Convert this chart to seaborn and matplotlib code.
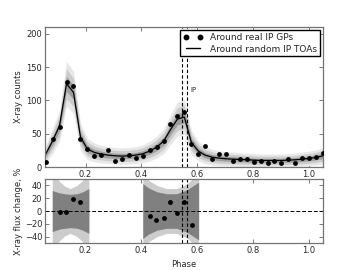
import numpy as np
import pandas as pd
import matplotlib
matplotlib.use("Agg")
import matplotlib.pyplot as plt
import seaborn as sns
from matplotlib.lines import Line2D

# phase bins
phase = [0.058, 0.083, 0.107, 0.132, 0.157, 0.182, 0.207, 0.232, 0.256, 0.281,
         0.306, 0.331, 0.356, 0.380, 0.405, 0.430, 0.455, 0.480, 0.504, 0.529,
         0.554, 0.579, 0.604, 0.628, 0.653, 0.678, 0.703, 0.728, 0.752, 0.777,
         0.802, 0.827, 0.852, 0.876, 0.901, 0.926, 0.951, 0.976, 1.000, 1.025, 1.050]

# counts around real IP GPs
real_counts = [7.6, 42, 59.5, 127, 121.6, 42, 26.8, 17, 18, 25.7,
               9.5, 12.6, 18, 14, 17, 25.8, 30.8, 39, 65, 77,
               83, 35, 20, 31, 11.6, 19, 19, 8.5, 12, 11.6,
               7, 9, 5.5, 9, 6.5, 12, 6.5, 14, 13, 15.5, 20.7]

# mean counts around random IP TOAs and its scatter
rand_mean = [20, 40, 62, 125, 112, 45, 27, 22, 19.5, 18,
             17, 16.5, 17, 18, 20, 24, 30, 39, 56, 72,
             75, 37, 24, 18, 15, 13.5, 12.5, 12, 11.5, 11,
             10.5, 10, 10, 10, 10, 10.5, 11, 12, 13, 14.5, 17]
rand_sigma = [4.5, 6.3, 7.9, 11.2, 10.6, 6.7, 5.2, 4.7, 4.4, 4.2,
              4.1, 4.1, 4.1, 4.2, 4.5, 4.9, 5.5, 6.2, 7.5, 8.5,
              8.7, 6.1, 4.9, 4.2, 3.9, 3.7, 3.5, 3.5, 3.4, 3.3,
              3.2, 3.2, 3.2, 3.2, 3.2, 3.2, 3.3, 3.5, 3.6, 3.8, 4.1]

# flux change (%) in the peak windows
chg_phase = [0.107, 0.131, 0.155, 0.180, 0.430, 0.454, 0.480, 0.503, 0.528, 0.553, 0.581]
chg_value = [-1, -1, 19.5, 13.4, -7.7, -13.8, -11.3, 14.3, -3.5, 14.3, -22.6]

# confidence bands of the flux change, window 1 and window 2
win1_phase = [0.081, 0.095, 0.11, 0.125, 0.145, 0.17, 0.19, 0.212]
win1_1sig = [32, 30, 28, 27, 26, 27, 30, 35]
win1_2sig = [58, 52, 45, 39, 35, 40, 48, 58]
win2_phase = [0.405, 0.426, 0.456, 0.49, 0.526, 0.563, 0.587, 0.605]
win2_1sig = [43, 36, 30, 27, 27, 33, 40, 45]
win2_2sig = [58, 48, 40, 35, 35, 42, 52, 58]

ip_lines = [0.545, 0.565]

sns.set_style("ticks")
plt.rcParams['font.family'] = ['DejaVu Sans']
plt.rcParams['font.size'] = 6

df = pd.DataFrame({"phase": phase, "real": real_counts, "mean": rand_mean, "sig": rand_sigma})
df_chg = pd.DataFrame({"phase": chg_phase, "chg": chg_value})

fig = plt.figure(figsize=(3.6, 2.7), dpi=100)
ax1 = fig.add_axes([0.125, 0.381, 0.772, 0.519])
ax2 = fig.add_axes([0.125, 0.100, 0.772, 0.237])

# top panel
p = np.array(phase)
m = np.array(rand_mean)
s = np.array(rand_sigma)
ax1.fill_between(p, m - 3 * s, m + 3 * s, color='0.91', lw=0)
ax1.fill_between(p, m - 2 * s, m + 2 * s, color='0.8', lw=0)
ax1.fill_between(p, m - s, m + s, color='0.62', lw=0)
sns.lineplot(data=df, x="phase", y="mean", ax=ax1, color='black', lw=0.9)
sns.scatterplot(data=df, x="phase", y="real", ax=ax1, color='black', s=12,
                edgecolor='black', linewidth=0, zorder=5)
for xv in ip_lines:
    ax1.axvline(xv, color='black', ls='--', lw=0.8, dashes=(3, 2))
ax1.text(0.575, 112, "IP", fontsize=5)
ax1.set_xlim(0.055, 1.05)
ax1.set_ylim(0, 210)
ax1.set_yticks([0, 50, 100, 150, 200])
ax1.set_xticks([0.2, 0.4, 0.6, 0.8, 1.0])
ax1.set_xlabel("")
ax1.set_ylabel("X-ray counts", fontsize=6)

handles = [Line2D([], [], color='black', marker='o', ls='none', markersize=3.2),
           Line2D([], [], color='black', lw=1)]
ax1.legend(handles, ["Around real IP GPs", "Around random IP TOAs"],
           loc='upper right', numpoints=2, fontsize=6.5, frameon=True,
           fancybox=False, edgecolor='black', framealpha=1,
           borderaxespad=0.35, handlelength=2.2, borderpad=0.3, labelspacing=0.3)

# bottom panel
ax2.fill_between(win1_phase, -np.array(win1_2sig), win1_2sig, color='0.8', lw=0)
ax2.fill_between(win1_phase, -np.array(win1_1sig), win1_1sig, color='0.5', lw=0)
ax2.fill_between(win2_phase, -np.array(win2_2sig), win2_2sig, color='0.8', lw=0)
ax2.fill_between(win2_phase, -np.array(win2_1sig), win2_1sig, color='0.5', lw=0)
ax2.axhline(0, color='black', ls='--', lw=0.7, dashes=(4, 2))
for xv in ip_lines:
    ax2.axvline(xv, color='black', ls='--', lw=0.8, dashes=(3, 2))
sns.scatterplot(data=df_chg, x="phase", y="chg", ax=ax2, color='black', s=12,
                linewidth=0, zorder=5)
ax2.set_xlim(0.055, 1.05)
ax2.set_ylim(-50, 50)
ax2.set_yticks([-40, -20, 0, 20, 40])
ax2.set_yticklabels(["\u221240", "\u221220", "0", "20", "40"])
ax2.set_xticks([0.2, 0.4, 0.6, 0.8, 1.0])
ax2.set_xlabel("Phase", fontsize=6)
ax2.set_ylabel("X-ray flux change, %", fontsize=6)

for ax in (ax1, ax2):
    ax.tick_params(direction='in', top=True, right=True, labelsize=6,
                   length=3, width=0.6, color='0.4', pad=2)
    for sp in ax.spines.values():
        sp.set_color('0.45')
        sp.set_linewidth(0.9)
ax1.yaxis.set_label_coords(-0.08, 0.5)
ax2.yaxis.set_label_coords(-0.08, 0.5)

fig.savefig("out.png", dpi=100)
